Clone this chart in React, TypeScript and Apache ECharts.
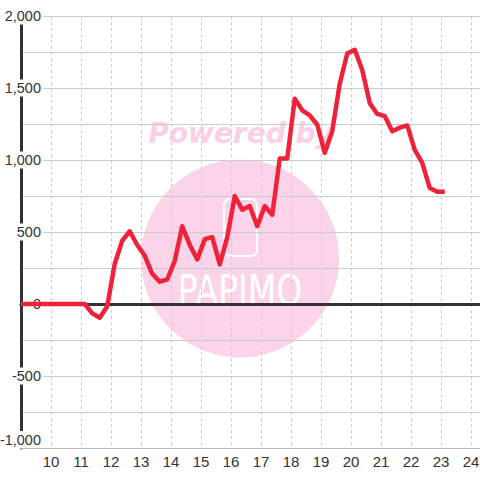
import React, { useEffect, useRef } from "react";
import * as echarts from "echarts";

const xValues: number[] = [
  9.0, 11.125, 11.375, 11.625, 11.875, 12.125, 12.375, 12.625, 12.875, 13.125,
  13.375, 13.625, 13.875, 14.125, 14.375, 14.625, 14.875, 15.125, 15.375, 15.625,
  15.875, 16.125, 16.375, 16.625, 16.875, 17.125, 17.375, 17.625, 17.875, 18.125,
  18.375, 18.625, 18.875, 19.125, 19.375, 19.625, 19.875, 20.125, 20.375, 20.625,
  20.875, 21.125, 21.375, 21.625, 21.875, 22.125, 22.375, 22.625, 22.875, 23.125,
];
const yValues: number[] = [
  0, 0, -65, -95, -15, 280, 440, 505, 410, 335,
  210, 155, 170, 300, 540, 410, 310, 450, 465, 275,
  465, 750, 655, 680, 540, 680, 620, 1010, 1010, 1425,
  1345, 1310, 1245, 1050, 1200, 1530, 1740, 1765, 1625, 1395,
  1320, 1305, 1200, 1225, 1240, 1070, 980, 805, 780, 780,
];
const yTicks = { min: -1000, max: 2000, step: 500 };
const xTicks = { min: 9, max: 24.3, step: 1 };

export default function App() {
  const ref = useRef<HTMLDivElement>(null);
  useEffect(() => {
    if (!ref.current) return;
    const chart = echarts.init(ref.current, undefined, { renderer: "svg" });
    const data = xValues.map((x, i) => [x, yValues[i]]);
    const font = "'Liberation Sans', Arial, sans-serif";
    chart.setOption({
      animation: false,
      backgroundColor: "#ffffff",
      grid: {
        left: 21,
        right: 0,
        top: 16,
        bottom: 32,
        containLabel: false,
        outerBoundsMode: "none",
      },
      graphic: [
        {
          type: "circle",
          z: -10,
          shape: { cx: 240, cy: 258.5, r: 99 },
          style: { fill: "#fbd4e9" },
          silent: true,
        },
        {
          type: "rect",
          z: -9,
          shape: { x: 224, y: 199, width: 33, height: 57, r: 6 },
          style: { fill: "none", stroke: "#ffffff", lineWidth: 2 },
          silent: true,
        },
        {
          type: "text",
          z: -9,
          x: 240,
          y: 290,
          scaleY: 1.3,
          style: {
            text: "PAPIMO",
            fill: "#ffffff",
            font: "normal 33px 'DejaVu Sans', sans-serif",
            align: "center",
            verticalAlign: "middle",
          },
          silent: true,
        },
        {
          type: "text",
          z: -9,
          x: 241,
          y: 133,
          style: {
            text: "Powered by",
            fill: "#fbcfe6",
            font: "italic bold 28px 'DejaVu Sans', sans-serif",
            align: "center",
            verticalAlign: "middle",
          },
          silent: true,
        },
      ],
      xAxis: [
        {
          type: "value",
          min: xTicks.min,
          max: xTicks.max,
          interval: xTicks.step,
          position: "bottom",
          axisLine: { show: true, onZero: false, lineStyle: { color: "#bbbbbb", width: 1 } },
          axisTick: { show: false },
          axisLabel: {
            showMinLabel: false,
            showMaxLabel: false,
            color: "#333333",
            fontSize: 15,
            fontFamily: font,
            margin: 6,
          },
          splitLine: { show: true, lineStyle: { color: "#cccccc", type: [3, 3], width: 1 } },
        },
        {
          type: "value",
          min: xTicks.min,
          max: xTicks.max,
          interval: xTicks.step,
          position: "bottom",
          axisLine: { show: true, onZero: true, lineStyle: { color: "#333333", width: 3 } },
          axisTick: { show: false },
          axisLabel: { show: false },
          splitLine: { show: false },
        },
      ],
      yAxis: {
        type: "value",
        min: yTicks.min,
        max: yTicks.max,
        interval: yTicks.step,
        axisLine: { show: true, lineStyle: { color: "#333333", width: 3 } },
        axisTick: { show: false },
        minorTick: { show: false, splitNumber: 2 },
        minorSplitLine: { show: true, lineStyle: { color: "#cccccc", width: 1 } },
        splitLine: { show: true, lineStyle: { color: "#cccccc", width: 1 } },
        axisLabel: {
          inside: true,
          align: "right",
          margin: 22,
          color: "#333333",
          fontSize: 14.5,
          fontFamily: font,
          backgroundColor: "#ffffff",
          padding: [1, 2, 1, 2],
          verticalAlignMinLabel: "bottom",
          formatter: (v: number) => v.toLocaleString("en-US"),
        },
      },
      series: [
        {
          type: "line",
          xAxisIndex: 0,
          data,
          showSymbol: false,
          symbol: "none",
          lineStyle: { color: "#ee2238", width: 4.5, join: "round" },
          z: 3,
        },
      ],
    });
    return () => chart.dispose();
  }, []);
  return (
    <div
      ref={ref}
      style={{ position: "fixed", left: 0, top: 0, width: 480, height: 480 }}
    />
  );
}
